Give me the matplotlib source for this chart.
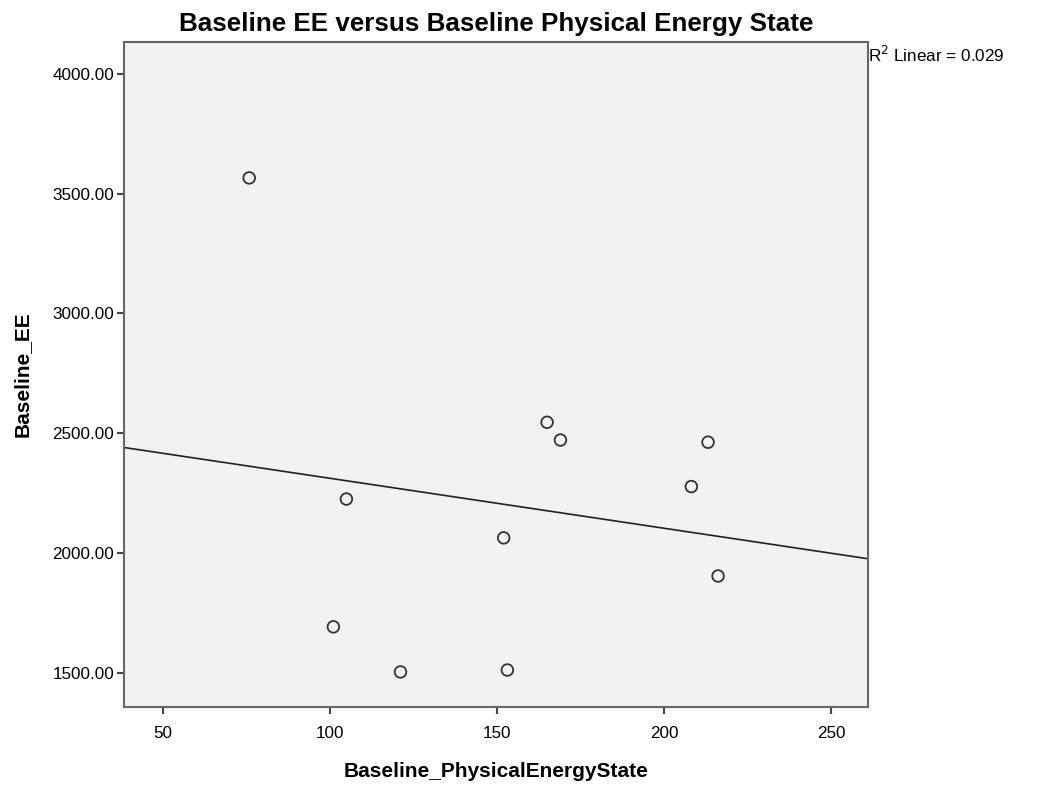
import numpy as np
import matplotlib.pyplot as plt

# Baseline_PhysicalEnergyState vs Baseline_EE
phys = [75.8, 104.9, 101.0, 121.1, 152.0, 153.1, 165.0, 169.0, 213.2, 208.2, 216.2]
ee = [3565, 2226, 1693, 1505, 2064, 1513, 2546, 2472, 2463, 2278, 1905]

xticks = [50, 100, 150, 200, 250]
yticks = [1500, 2000, 2500, 3000, 3500, 4000]

plt.rcParams['font.family'] = ['Liberation Sans', 'DejaVu Sans']

fig = plt.figure(figsize=(10.63, 7.85), dpi=100)
ax = fig.add_axes([124/1063, 1 - 706.7/785, (868-124)/1063, (706.7-41.7)/785])
ax.set_facecolor('#f2f2f2')

x = np.array(phys)
y = np.array(ee)
slope, icpt = np.polyfit(x, y, 1)
r2 = np.corrcoef(x, y)[0, 1] ** 2

xlim = (38.3, 261.1)
ax.plot(xlim, [icpt + slope * xlim[0], icpt + slope * xlim[1]], color='#222222', lw=1.2)
ax.scatter(x, y, s=70, facecolors='none', edgecolors='#333333', linewidths=1.3, zorder=3)

ax.set_xlim(xlim)
ax.set_ylim(1360, 4133)
ax.set_xticks(xticks)
ax.set_yticks(yticks)
ax.set_yticklabels(['%.2f' % v for v in yticks])
ax.tick_params(direction='out', length=5, width=1.5, color='#444444', labelsize=12.3, pad=2)
ax.tick_params(axis='x', pad=9)

for s in ax.spines.values():
    s.set_color('#666666')
    s.set_linewidth(1.5)

ax.set_xlabel('Baseline_PhysicalEnergyState', fontsize=15, fontweight='bold', labelpad=15)
ax.set_ylabel('Baseline_EE', fontsize=15, fontweight='bold', labelpad=15)
ax.set_title('Baseline EE versus Baseline Physical Energy State', fontsize=18.7, fontweight='bold', pad=8)

ax.text(1.0, 0.98, 'R$^2$ Linear = %.3f' % r2, transform=ax.transAxes, fontsize=12.3,
        ha='left', va='center')

fig.savefig('out.png', dpi=100)
